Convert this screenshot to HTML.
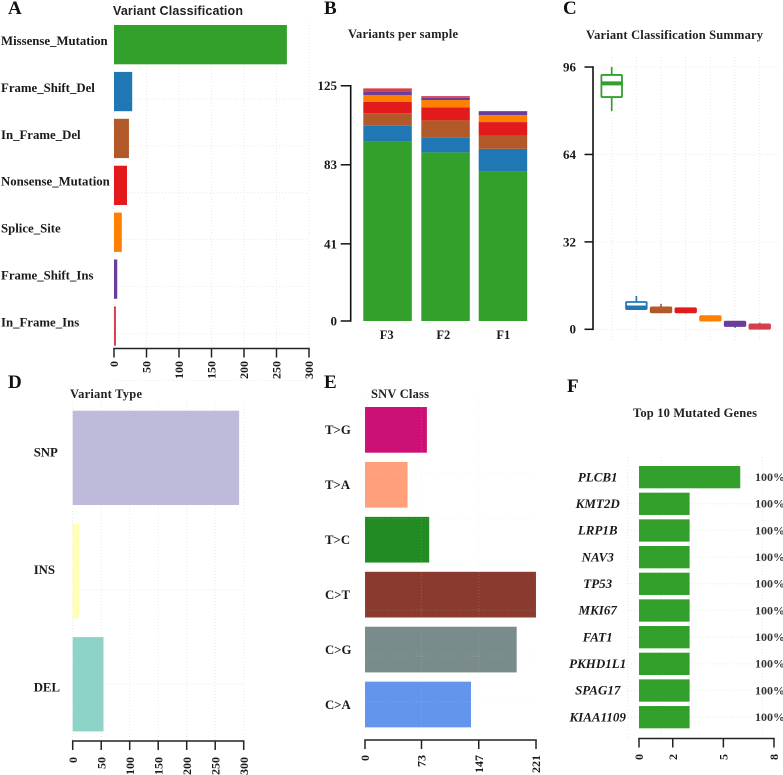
<!DOCTYPE html>
<html lang="en">
<head>
<meta charset="utf-8">
<title>Mutation summary panels</title>
<style>
html,body{margin:0;padding:0;background:#fff;}
body{width:783px;height:775px;overflow:hidden;}
svg{display:block;font-family:"Liberation Serif",serif;filter:blur(0.3px);}
.panel-letter{font-size:19px;font-weight:bold;fill:#111;}
.title{font-size:12.5px;font-weight:bold;fill:#222;}
.title-sans{font-family:"Liberation Sans",sans-serif;font-size:12.5px;font-weight:bold;fill:#222;}
.tick{font-size:12px;font-weight:bold;fill:#1a1a1a;}
.cat{font-size:12.8px;font-weight:bold;fill:#1a1a1a;}
.gene{font-size:13px;font-weight:bold;font-style:italic;fill:#1a1a1a;}
.pct{font-size:12px;font-weight:bold;fill:#333;}
</style>
</head>
<body>
<svg id="fig" width="783" height="775" viewBox="0 0 783 775" xmlns="http://www.w3.org/2000/svg">
  <rect width="783" height="775" fill="#fff"/>

  <text class="panel-letter" x="8" y="14">A</text>
  <text class="panel-letter" x="324" y="14">B</text>
  <text class="panel-letter" x="563" y="14">C</text>
  <text class="panel-letter" x="8" y="388">D</text>
  <text class="panel-letter" x="324" y="388">E</text>
  <text class="panel-letter" x="567" y="392">F</text>

  <text class="title-sans" x="113" y="15" textLength="130" lengthAdjust="spacing">Variant Classification</text>
  <text class="title" x="348" y="38" textLength="110" lengthAdjust="spacing">Variants per sample</text>
  <text class="title" x="586" y="39" textLength="177" lengthAdjust="spacing">Variant Classification Summary</text>
  <text class="title" x="70" y="398" textLength="72" lengthAdjust="spacing">Variant Type</text>
  <text class="title" x="371" y="398" textLength="58" lengthAdjust="spacing">SNV Class</text>
  <text class="title" x="633" y="417" textLength="124" lengthAdjust="spacing">Top 10 Mutated Genes</text>

  <g id="panel-a"></g>
  <g id="panel-b"></g>
  <g id="panel-c"></g>
  <g id="panel-d"></g>
  <g id="panel-e"></g>
  <g id="panel-f"></g>
</svg>

<script>
/* Panel A */
const classNames = ["Missense_Mutation","Frame_Shift_Del","In_Frame_Del","Nonsense_Mutation","Splice_Site","Frame_Shift_Ins","In_Frame_Ins"];
const classTotals = [266,28,23,20,12,5,3];
const classTicks = [0,50,100,150,200,250,300];
const classColors = ["#33A02C","#1F78B4","#B15928","#E31A1C","#FF7F00","#6A3D9A","#D53E4F"];

/* Panel B */
const sampleNames = ["F3","F2","F1"];
const sampleMissense = [95.6,89.6,79.5];
const sampleFrameShiftDel = [8.1,8,12];
const sampleInFrameDel = [6.7,9,7.1];
const sampleNonsense = [6,6.9,7.1];
const sampleSplice = [3.7,3.9,3.7];
const sampleFrameShiftIns = [1.6,1.2,2.1];
const sampleInFrameIns = [1.9,0.9,0];
const sampleTicks = [0,41,83,125];

/* Panel C */
const summaryWhiskerHigh = [96,12.2,9.3,7.7,4.8,2.8,2.4];
const summaryQ3 = [93.1,10,8,7.7,4.8,2.8,1.8];
const summaryMedian = [90,8,7,7,4,2,1];
const summaryQ1 = [85,7.4,6.2,6.2,3.2,1.2,0.2];
const summaryWhiskerLow = [79.9,7.4,6.2,5.8,3.2,0.6,0];
const summaryTicks = [0,32,64,96];

/* Panel D */
const typeNames = ["SNP","INS","DEL"];
const typeTotals = [292,11,54];
const typeTicks = [0,50,100,150,200,250,300];
const typeColors = ["#BEBADA","#FFFFB3","#8DD3C7"];

/* Panel E */
const snvNames = ["T>G","T>A","T>C","C>T","C>G","C>A"];
const snvTotals = [80,55,83,221,196,137];
const snvTicks = [0,73,147,221];
const snvColors = ["#CD1076","#FFA07A","#228B22","#8B3A2F","#7A8B8B","#6495ED"];

/* Panel F */
const geneNames = ["PLCB1","KMT2D","LRP1B","NAV3","TP53","MKI67","FAT1","PKHD1L1","SPAG17","KIAA1109"];
const geneCounts = [6,3,3,3,3,3,3,3,3,3];
const genePercents = ["100%","100%","100%","100%","100%","100%","100%","100%","100%","100%"];
const geneTicks = [0,2,5,8];

const NS = "http://www.w3.org/2000/svg";
const AXIS = "#222";
const GRID = "#e4e4e4";

function make(tag, attrs, parent, text) {
  const el = document.createElementNS(NS, tag);
  for (const k in attrs) el.setAttribute(k, attrs[k]);
  if (text !== undefined) el.textContent = text;
  parent.appendChild(el);
  return el;
}
function slug(s) {
  return String(s).toLowerCase().replace(/>/g, "-to-").replace(/[^a-z0-9]+/g, "-");
}
function gridV(parent, x, y1, y2, color) {
  const el = make("line", {x1:x, x2:x, y1:y1, y2:y2, stroke:color || GRID, "stroke-width":0.8, "stroke-dasharray":"1 2"}, parent);
  
  
}
function gridH(parent, y, x1, x2, color) {
  const el = make("line", {x1:x1, x2:x2, y1:y, y2:y, stroke:color || GRID, "stroke-width":0.8, "stroke-dasharray":"1 2"}, parent);
  
  
}
function bottomAxis(parent, ticks, xFn, axisY, labelEnd) {
  const axis = make("line", {x1:xFn(ticks[0]), x2:xFn(ticks[ticks.length-1]), y1:axisY, y2:axisY, stroke:AXIS, "stroke-width":1.5, "stroke-linecap":"square"}, parent);
  
  
  ticks.forEach(t => {
    const x = xFn(t);
    const mark = make("line", {x1:x, x2:x, y1:axisY, y2:axisY + 9, stroke:AXIS, "stroke-width":1.5}, parent);
    
    
    const label = make("text", {"class":"tick", x:x, y:labelEnd, dy:"0.34em", "text-anchor":"end", transform:"rotate(-90 " + x + " " + labelEnd + ")"}, parent, t);
    
    
  });
}
function leftAxis(parent, ticks, yFn, axisX, tickLen, labelRight) {
  const axis = make("line", {x1:axisX, x2:axisX, y1:yFn(ticks[0]), y2:yFn(ticks[ticks.length-1]), stroke:"#111", "stroke-width":1.6, "stroke-linecap":"square"}, parent);
  
  
  ticks.forEach(t => {
    const y = yFn(t);
    const mark = make("line", {x1:axisX - tickLen, x2:axisX, y1:y, y2:y, stroke:"#111", "stroke-width":1.5}, parent);
    
    
    const label = make("text", {"class":"tick", style:"font-size:13px", x:labelRight, y:y, dy:"0.34em", "text-anchor":"end"}, parent, t);
    
    
  });
}

/* ---------- Panel A ---------- */
(function () {
  const g = document.getElementById("panel-a");
  const x = v => 114 + v * 0.65;
  const top = i => 25 + i * 46.9;
  const bh = 39.3;
  classTicks.forEach(t => gridV(g, x(t), 22, 347));
  classNames.forEach((n, i) => gridH(g, top(i) + 74, 114, 309));
  classNames.forEach((name, i) => {
    const bar = make("rect", {x:x(0), y:top(i), width:x(classTotals[i]) - x(0), height:bh, fill:classColors[i]}, g);
    
    
    const label = make("text", {"class":"cat", x:1, y:top(i) + bh / 2 - 3.5, dy:"0.3em"}, g, name);
    
    
  });
  bottomAxis(g, classTicks, x, 348.5, 361);
})();

/* ---------- Panel B ---------- */
(function () {
  const g = document.getElementById("panel-b");
  const y = v => 321 - v * 1.882;
  const left = i => [363.3, 421.3, 478.7][i];
  const layers = [sampleMissense, sampleFrameShiftDel, sampleInFrameDel, sampleNonsense, sampleSplice, sampleFrameShiftIns, sampleInFrameIns];
  const labelCentres = [386.7, 443.3, 503.3];
  sampleNames.forEach((name, i) => {
    let acc = 0;
    layers.forEach((series, k) => {
      const v = series[i];
      if (v <= 0) return;
      const seg = make("rect", {x:left(i), y:y(acc + v), width:48.5, height:y(acc) - y(acc + v), fill:classColors[k]}, g);
      
      
      acc += v;
    });
    const label = make("text", {"class":"tick", style:"font-size:12.5px", x:labelCentres[i], y:339, "text-anchor":"middle"}, g, name);
    
    
  });
  leftAxis(g, sampleTicks, y, 350.7, 10, 337);
})();

/* ---------- Panel C ---------- */
(function () {
  const g = document.getElementById("panel-c");
  const y = v => 329.3 - v * 2.732;
  const cx = i => 611.7 + i * 24.67;
  classNames.forEach((n, i) => gridV(g, cx(i), 57, 340));
  summaryTicks.forEach(t => gridH(g, y(t), 595, 780));
  classNames.forEach((name, i) => {
    const c = classColors[i];
    const whisker = make("line", {x1:cx(i), x2:cx(i), y1:y(summaryWhiskerHigh[i]), y2:y(summaryWhiskerLow[i]), stroke:c, "stroke-width":1.7}, g);
    
    
    const box = make("rect", {x:cx(i) - 10.3, y:y(summaryQ3[i]), width:20.6, height:y(summaryQ1[i]) - y(summaryQ3[i]), fill:"#fff", stroke:c, "stroke-width":1.8, rx:0.8}, g);
    
    
    const med = make("line", {x1:cx(i) - 10.3, x2:cx(i) + 10.3, y1:y(summaryMedian[i]), y2:y(summaryMedian[i]), stroke:c, "stroke-width":4}, g);
    
    
  });
  leftAxis(g, summaryTicks, y, 593, 8.5, 576);
})();

/* ---------- Panel D ---------- */
(function () {
  const g = document.getElementById("panel-d");
  const x = v => 72.7 + v * 0.57;
  const top = i => 410.7 + i * 113.2;
  const bh = 94.3;
  typeTicks.forEach(t => gridV(g, x(t), 403, 740));
  [496, 590, 684].forEach(v => gridH(g, v, 72.7, 243));
  typeNames.forEach((name, i) => {
    const bar = make("rect", {x:x(0), y:top(i), width:x(typeTotals[i]) - x(0), height:bh, fill:typeColors[i]}, g);
    
    
    const label = make("text", {"class":"cat", x:33.7, y:452 + i * 117.6, dy:"0.34em"}, g, name);
    
    
  });
  bottomAxis(g, typeTicks, x, 741, 757);
})();

/* ---------- Panel E ---------- */
(function () {
  const g = document.getElementById("panel-e");
  const x = v => 365 + v * 0.7738;
  const top = i => 407 + i * 54.93;
  const bh = 45.7;
  snvNames.forEach((name, i) => {
    const bar = make("rect", {x:x(0), y:top(i), width:x(snvTotals[i]) - x(0), height:bh, fill:snvColors[i]}, g);
    
    
    const label = make("text", {"class":"cat", x:325, y:top(i) + bh / 2, dy:"0.34em"}, g, name);
    
    
  });
  const overlay = "rgba(215,215,215,0.28)";
  snvTicks.forEach(t => gridV(g, x(t), 395, 739, overlay));
  [473, 519, 565, 610, 656, 702].forEach(v => gridH(g, v, 365, 536, overlay));
  bottomAxis(g, snvTicks, x, 740, 755);
})();

/* ---------- Panel F ---------- */
(function () {
  const g = document.getElementById("panel-f");
  const x = v => 639 + v * 16.875;
  const top = i => 466 + i * 26.67;
  const bh = 22.3;
  [-0.67, 1.3, 7.3].forEach(v => gridV(g, x(v), 457, 738));
  geneNames.forEach((n, i) => gridH(g, top(i) + bh / 2, 628, 775));
  geneNames.forEach((name, i) => {
    const bar = make("rect", {x:x(0), y:top(i), width:x(geneCounts[i]) - x(0), height:bh, fill:"#33A02C"}, g);
    
    
    const label = make("text", {"class":"gene", x:597.7, y:top(i) + bh / 2, dy:"0.32em", "text-anchor":"middle"}, g, name);
    
    
    const pct = make("text", {"class":"pct", x:755, y:top(i) + bh / 2, dy:"0.32em"}, g, genePercents[i]);
    
    
  });
  bottomAxis(g, geneTicks, x, 738.5, 754);
})();
</script>
</body>
</html>
